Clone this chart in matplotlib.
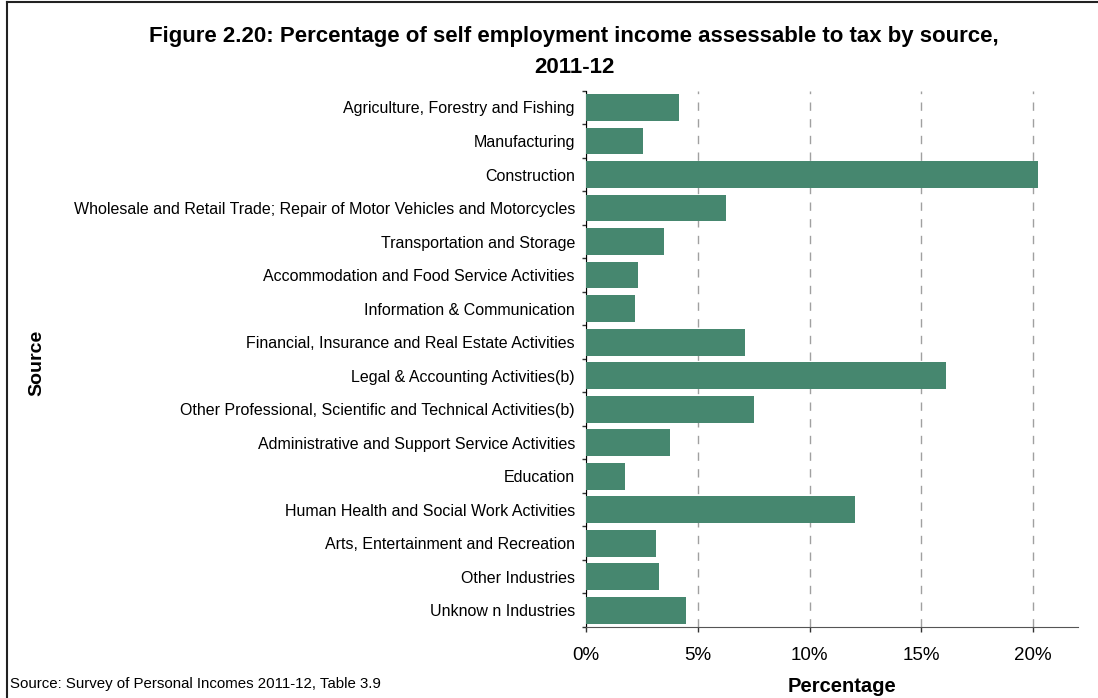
import matplotlib.pyplot as plt
from matplotlib.lines import Line2D
from matplotlib.ticker import FixedLocator, PercentFormatter

plt.rcParams['font.family'] = ['Liberation Sans', 'DejaVu Sans']

sources = [
    'Agriculture, Forestry and Fishing',
    'Manufacturing',
    'Construction',
    'Wholesale and Retail Trade; Repair of Motor Vehicles and Motorcycles',
    'Transportation and Storage',
    'Accommodation and Food Service Activities',
    'Information & Communication',
    'Financial, Insurance and Real Estate Activities',
    'Legal & Accounting Activities(b)',
    'Other Professional, Scientific and Technical Activities(b)',
    'Administrative and Support Service Activities',
    'Education',
    'Human Health and Social Work Activities',
    'Arts, Entertainment and Recreation',
    'Other Industries',
    'Unknow n Industries',
]
percent = [4.18, 2.53, 20.22, 6.24, 3.47, 2.31, 2.17, 7.09,
           16.11, 7.53, 3.74, 1.73, 12.04, 3.11, 3.25, 4.45]
xticks = [0, 5, 10, 15, 20]

fig = plt.figure(figsize=(10.98, 6.98), dpi=100)
ax = fig.add_axes([0.5337, 0.1017, 0.4481, 0.7683])

ypos = list(range(len(sources)))
ax.barh(ypos, percent, height=0.8, color='#46876f', zorder=3)
ax.set_ylim(len(sources) - 0.5, -0.5)
ax.set_xlim(0, 22)

ax.set_yticks(ypos)
ax.set_yticklabels(sources, fontsize=11.5)
ax.yaxis.set_minor_locator(FixedLocator([i - 0.5 for i in range(len(sources) + 1)]))
ax.tick_params(axis='y', which='major', length=0, pad=8)
ax.tick_params(axis='y', which='minor', length=3, width=1, direction='out', color='#333333')

ax.set_xticks(xticks)
ax.xaxis.set_major_formatter(PercentFormatter(decimals=0))
ax.tick_params(axis='x', length=3.5, width=1, direction='out', labelsize=13.5, pad=11, color='#333333')

ax.grid(axis='x', linestyle=(0, (6, 6)), color='#a0a0a0', linewidth=1, zorder=0)
for side in ['top', 'right']:
    ax.spines[side].set_visible(False)
ax.spines['left'].set_color('black')
ax.spines['bottom'].set_color('#555555')

fig.text(0.523, 0.948, 'Figure 2.20: Percentage of self employment income assessable to tax by source,',
         ha='center', va='center', fontsize=16, fontweight='bold')
fig.text(0.523, 0.903, '2011-12', ha='center', va='center', fontsize=16, fontweight='bold')
fig.text(0.767, 0.017, 'Percentage', ha='center', va='center', fontsize=14.5, fontweight='bold')
fig.text(0.034, 0.48, 'Source', ha='center', va='center', rotation=90,
         fontsize=14, fontweight='bold')
fig.text(0.009, 0.02, 'Source: Survey of Personal Incomes 2011-12, Table 3.9',
         ha='left', va='center', fontsize=10.8)

# frame lines along the left and top edges
fig.add_artist(Line2D([0.0065, 0.0065], [0, 0.997], color='#222222', linewidth=1.5))
fig.add_artist(Line2D([0.0065, 1], [0.997, 0.997], color='#222222', linewidth=1.5))

fig.savefig('out.png', dpi=100)
